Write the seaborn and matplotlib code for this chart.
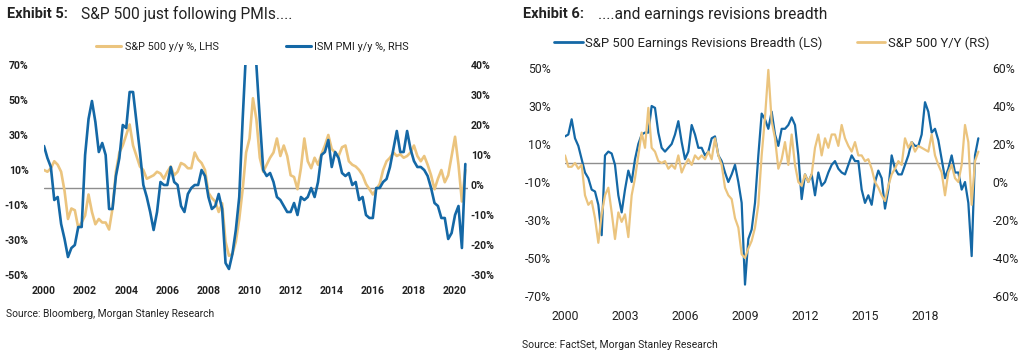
import numpy as np
import pandas as pd
import matplotlib.pyplot as plt
import seaborn as sns
from matplotlib.lines import Line2D
from matplotlib.ticker import FuncFormatter, FixedLocator

# =====================================================
# DATA (bi-monthly from Jan 2000)
# =====================================================

# Exhibit 5
spx_yoy_lhs = [10, 9, 11, 15, 13, 9, -2, -18, -12, -13, -23, -20, -16, -4, -14, -21,
               -18, -20, -20, -24, -12, 9, 20, 24, 30, 36, 24, 18, 12, 10, 5, 6,
               7, 9, 8, 5, 9, 12, 7, 9, 14, 13, 11, 11, 20, 16, 14, 10,
               -3, -6, -8, -14, -9, -31, -39, -38, -31, -18, -1, 20, 28, 51, 39, 17,
               9, 13, 17, 20, 28, 18, 24, 18, 7, 6, -1, 11, 28, 15, 11, 17,
               13, 19, 24, 30, 22, 20, 18, 23, 24, 15, 13, 12, 10, 7, 2, -1,
               -4, -1, 2, 10, 15, 17, 20, 18, 19, 17, 18, 20, 24, 18, 15, 18,
               13, 7, -1, 5, 10, 3, 7, 18, 29, 13, -8, 10]

ism_pmi_yoy_rhs = [13, 9, 6, -5, -4, -13, -18, -24, -21, -20, -14, -14, 10, 22, 28, 21,
                   11, 14, 10, -8, -8, 3, 9, 20, 19, 31, 31, 21, 11, 0, -4, -9,
                   -15, -9, 1, 0, 0, 6, 1, 0, -7, -9, -3, -1, 0, 0, 5, 3,
                   -4, -8, -7, -3, -8, -26, -28, -23, -15, -4, 22, 45, 55, 52, 40, 22,
                   5, 3, 4, 1, -4, -5, -7, -9, -9, -6, -10, -4, -5, -4, -1, -4,
                   1, 10, 11, 15, 6, 11, 9, 4, 3, 4, 0, 1, -5, -4, -10, -11,
                   -11, -1, -1, 1, 2, 6, 12, 18, 11, 11, 18, 12, 8, 6, 6, 5,
                   3, -1, -6, -7, -11, -11, -18, -16, -10, -7, -21, 7]

# Exhibit 6
revisions_breadth_ls = [14, 15, 23, 13, 9, 2, -5, -8, -14, -15, -22, -38, 4, 6, 5, -1,
                        -17, -26, -14, -4, -10, 2, 10, 15, 16, 16, 30, 29, 16, 8, 6, 8,
                        10, 15, 22, 11, 2, 6, 20, 15, 8, 8, 4, 6, 13, 14, 4, 1,
                        -5, -10, -6, -1, -10, -21, -64, -40, -35, -21, 4, 26, 23, 18, 27, 15,
                        9, 18, 18, 20, 24, 20, 4, -19, -6, -10, -6, -17, -5, -12, -10, -5,
                        -1, 1, -3, -5, -6, -1, 4, 1, 1, -14, -21, -17, -22, -10, -4, -8,
                        -24, -14, 4, -3, -6, -6, -1, 4, 11, 9, 9, 15, 32, 27, 16, 18,
                        12, 2, -8, -3, 4, -5, -5, -14, -10, -21, -49, 4, 13]

spx_yoy_rs = [14, 8, 8, 10, 7, 9, -7, -12, -10, -19, -32, -17, -7, -3, -16, -30,
              -16, -21, -17, -29, -7, 2, 14, 26, 18, 39, 18, 16, 11, 10, 11, 7,
              9, 7, 14, 5, 9, 12, 9, 14, 12, 14, 12, 16, 12, 23, 14, 9,
              -3, -7, -9, -19, -24, -38, -40, -35, -31, -24, -12, 14, 34, 59, 32, 23,
              7, 12, 21, 9, 25, 9, 0, -2, 4, 0, 4, 18, 25, 14, 23, 18,
              25, 25, 19, 30, 23, 19, 16, 21, 14, 14, 11, 12, 7, 0, -3, -7,
              -10, -2, 4, 7, 11, 9, 23, 18, 21, 16, 19, 18, 17, 16, 25, 14,
              9, 5, -7, 5, 9, 2, 0, 9, 30, 21, -12, 11, 16]

left_ticks_5 = [-50, -30, -10, 10, 30, 50, 70]
right_ticks_5 = [-30, -20, -10, 0, 10, 20, 30, 40]
year_ticks_5 = list(range(2000, 2021, 2))

left_ticks_6 = [-70, -50, -30, -10, 10, 30, 50]
right_ticks_6 = [-60, -40, -20, 0, 20, 40, 60]
year_ticks_6 = list(range(2000, 2019, 3))

df5 = pd.DataFrame({
    'year': 2000 + np.arange(len(spx_yoy_lhs)) / 6,
    'spx': spx_yoy_lhs,
    'ism': ism_pmi_yoy_rhs,
})
df6 = pd.DataFrame({
    'year': 2000 + np.arange(len(revisions_breadth_ls)) / 6,
    'breadth': revisions_breadth_ls,
    'spx': spx_yoy_rs,
})

# =====================================================
# STYLE
# =====================================================

GOLD = "#EBC47E"
BLUE = "#1468A6"
ZERO = "#8E8E8E"
TXT = "#222222"

sns.set_style("white")
plt.rcParams['font.family'] = ['Roboto', 'DejaVu Sans']
plt.rcParams['axes.unicode_minus'] = False

W, H = 1024, 356
fig = plt.figure(figsize=(W / 100, H / 100), dpi=100)


def rect(l, t, r, b):
    return [l / W, 1 - b / H, (r - l) / W, (b - t) / H]


pct = FuncFormatter(lambda v, p: f"{v:.0f}%")


def clean(ax):
    for s in ax.spines.values():
        s.set_visible(False)
    ax.set_xlabel("")
    ax.set_ylabel("")


# =====================================================
# EXHIBIT 5
# =====================================================

ax1 = fig.add_axes(rect(44, 65, 468, 275))
ax1b = ax1.twinx()

ax1.axhline(0, color=ZERO, lw=1.0, zorder=1)
sns.lineplot(data=df5, x='year', y='spx', ax=ax1, color=GOLD, lw=1.9, legend=False)
sns.lineplot(data=df5, x='year', y='ism', ax=ax1b, color=BLUE, lw=1.9, legend=False)

ax1.set_xlim(2000, 2020.63)
ax1.set_ylim(-50, 70)
ax1b.set_ylim(-30, 40)
ax1.xaxis.set_major_locator(FixedLocator(year_ticks_5))
ax1.yaxis.set_major_locator(FixedLocator(left_ticks_5))
ax1b.yaxis.set_major_locator(FixedLocator(right_ticks_5))
ax1.yaxis.set_major_formatter(pct)
ax1b.yaxis.set_major_formatter(pct)
for a in (ax1, ax1b):
    clean(a)
    a.tick_params(length=0, labelsize=7.6, labelcolor=TXT)
    for lab in a.get_xticklabels() + a.get_yticklabels():
        lab.set_fontweight('bold')
ax1.tick_params(axis='y', pad=11)
ax1.tick_params(axis='x', pad=8)
ax1b.tick_params(axis='y', pad=2)

fig.text(7 / W, 1 - 14 / H, "Exhibit 5:", fontsize=10.5, fontweight='bold', color=TXT, va='center')
fig.text(81 / W, 1 - 14 / H, "S&P 500 just following PMIs....", fontsize=11.2, color=TXT, va='center')

h5 = [Line2D([], [], color=GOLD, lw=2.2), Line2D([], [], color=BLUE, lw=2.2)]
fig.legend(h5, ["S&P 500 y/y %, LHS", "ISM PMI y/y %, RHS"], ncol=2, frameon=False,
           loc='center left', bbox_to_anchor=(96 / W, 1 - 47 / H), borderpad=0,
           borderaxespad=0, fontsize=7.8, handlelength=2.3, handletextpad=0.35,
           columnspacing=6.2, labelcolor=TXT)

fig.text(6 / W, 1 - 314 / H, "Source: Bloomberg, Morgan Stanley Research", fontsize=7.4,
         color=TXT, va='center')

# =====================================================
# EXHIBIT 6
# =====================================================

ax2 = fig.add_axes(rect(565, 68, 980, 296))
ax2b = ax2.twinx()

ax2.axhline(0, color=ZERO, lw=1.0, zorder=1)
sns.lineplot(data=df6, x='year', y='breadth', ax=ax2, color=BLUE, lw=1.6, legend=False)
sns.lineplot(data=df6, x='year', y='spx', ax=ax2b, color=GOLD, lw=1.6, legend=False)

ax2.set_xlim(2000, 2020.75)
ax2.set_ylim(-70, 50)
ax2b.set_ylim(-60, 60)
ax2.xaxis.set_major_locator(FixedLocator(year_ticks_6))
ax2.yaxis.set_major_locator(FixedLocator(left_ticks_6))
ax2b.yaxis.set_major_locator(FixedLocator(right_ticks_6))
ax2.yaxis.set_major_formatter(pct)
ax2b.yaxis.set_major_formatter(pct)
for a in (ax2, ax2b):
    clean(a)
    a.tick_params(length=0, labelsize=8.8, labelcolor=TXT)
ax2.tick_params(axis='y', pad=10)
ax2.tick_params(axis='x', pad=10)
ax2b.tick_params(axis='y', pad=9)

fig.text(523 / W, 1 - 14 / H, "Exhibit 6:", fontsize=10.5, fontweight='bold', color=TXT, va='center')
fig.text(598 / W, 1 - 14 / H, "....and earnings revisions breadth", fontsize=11.2, color=TXT,
         va='center')

h6 = [Line2D([], [], color=BLUE, lw=2.0), Line2D([], [], color=GOLD, lw=2.0)]
fig.legend(h6, ["S&P 500 Earnings Revisions Breadth (LS)", "S&P 500 Y/Y (RS)"], ncol=2,
           frameon=False, loc='center left', bbox_to_anchor=(554 / W, 1 - 43 / H),
           borderpad=0, borderaxespad=0, fontsize=9.4, handlelength=2.2,
           handletextpad=0.2, columnspacing=2.6, labelcolor=TXT)

fig.text(522 / W, 1 - 345 / H, "Source: FactSet, Morgan Stanley Research", fontsize=7.5,
         color=TXT, va='center')

fig.savefig("out.png", dpi=100, facecolor='white')
